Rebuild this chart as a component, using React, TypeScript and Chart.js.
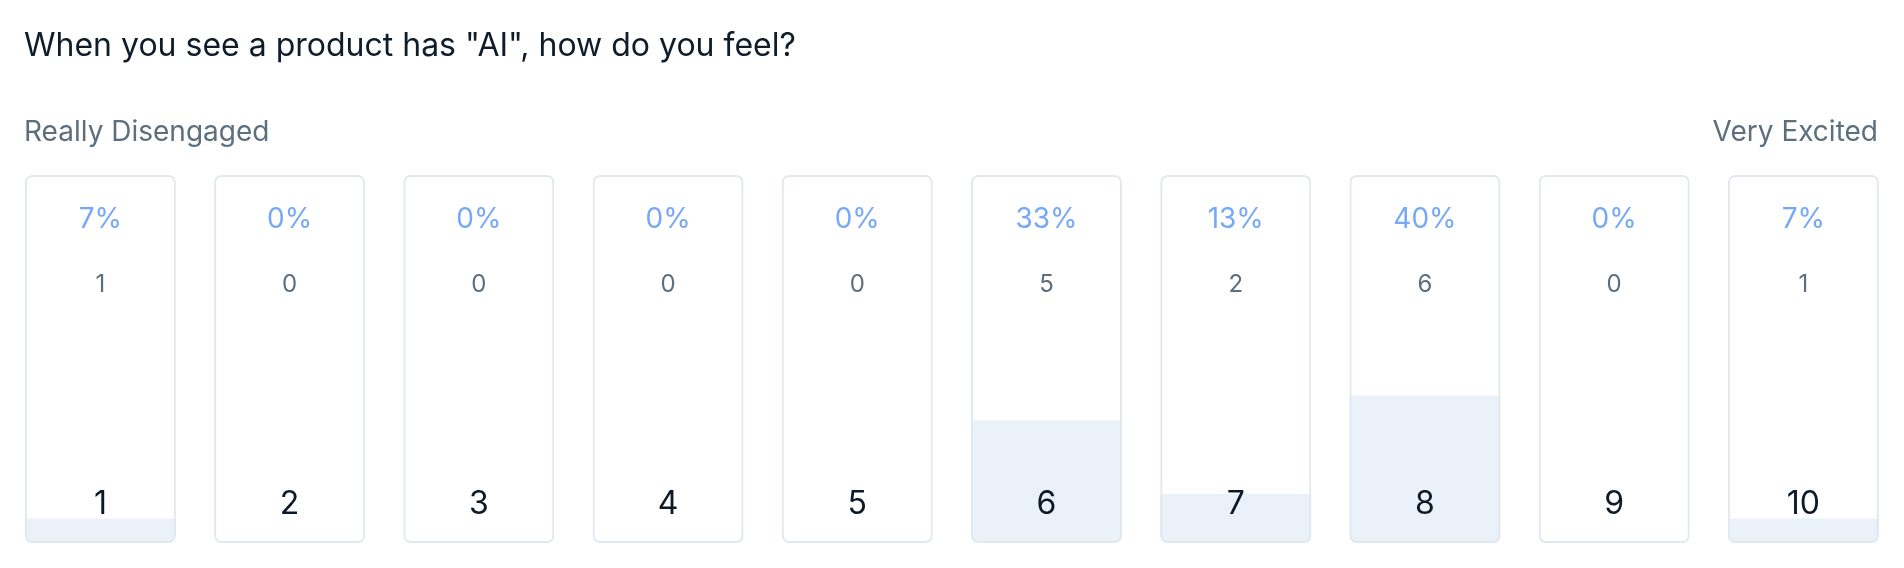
import React, { useEffect, useRef } from "react";
import { Chart, registerables } from "chart.js";

Chart.register(...registerables);

const TITLE = 'When you see a product has "AI", how do you feel?';
const LEFT_LABEL = "Really Disengaged";
const RIGHT_LABEL = "Very Excited";
const scores = ["1", "2", "3", "4", "5", "6", "7", "8", "9", "10"];
const counts = [1, 0, 0, 0, 0, 5, 2, 6, 0, 1];
const total = counts.reduce((a, b) => a + b, 0);
const percents = counts.map((c) => (c / total) * 100);
const cardValues = scores.map(() => 100);

const FONT = "Inter, 'Noto Sans', sans-serif";

const textPlugin = {
  id: "cardText",
  afterDatasetsDraw(chart: any) {
    const { ctx, chartArea, scales } = chart;
    const xs = scales.x;
    ctx.save();
    ctx.textAlign = "center";
    ctx.textBaseline = "middle";
    scores.forEach((s, i) => {
      const x = xs.getPixelForValue(i);
      ctx.fillStyle = "#76a8f7";
      ctx.font = `400 28px ${FONT}`;
      ctx.fillText(`${Math.round(percents[i])}%`, x, chartArea.top + 45);
      ctx.fillStyle = "#5d6f7c";
      ctx.font = `400 24px ${FONT}`;
      ctx.fillText(String(counts[i]), x, chartArea.top + 110);
      ctx.fillStyle = "#0c1a27";
      ctx.font = `400 32px ${FONT}`;
      ctx.fillText(s, x, chartArea.bottom - 39);
    });
    // header texts
    ctx.textBaseline = "alphabetic";
    ctx.textAlign = "left";
    ctx.fillStyle = "#0f1d2b";
    ctx.font = `400 32px ${FONT}`;
    ctx.fillText(TITLE, 24, 56);
    ctx.fillStyle = "#5b6f7d";
    ctx.font = `400 28px ${FONT}`;
    ctx.fillText(LEFT_LABEL, 24, 141);
    ctx.textAlign = "right";
    ctx.fillText(RIGHT_LABEL, 1878, 141);
    ctx.restore();
  },
};

export default function App() {
  const ref = useRef<HTMLCanvasElement>(null);
  useEffect(() => {
    if (!ref.current) return;
    const chart = new Chart(ref.current, {
      type: "bar",
      data: {
        labels: scores,
        datasets: [
          {
            label: "card",
            data: cardValues,
            backgroundColor: "rgba(0,0,0,0)",
            borderColor: "#e2e8f0",
            borderWidth: 2,
            borderRadius: 7,
            borderSkipped: false,
            grouped: false,
            order: 1,
            barPercentage: 0.798,
            categoryPercentage: 1,
          } as any,
          {
            label: "share",
            data: percents,
            backgroundColor: "#eaf1f9",
            borderWidth: 0,
            borderRadius: { topLeft: 0, topRight: 0, bottomLeft: 7, bottomRight: 7 },
            borderSkipped: false,
            inflateAmount: 0,
            grouped: false,
            order: 2,
            barPercentage: 0.798,
            categoryPercentage: 1,
          } as any,
        ],
      },
      options: {
        responsive: false,
        animation: false,
        devicePixelRatio: 1,
        layout: { padding: { left: 5.8, right: 6, top: 175, bottom: 25 } },
        scales: {
          x: { display: false, offset: true },
          y: { display: false, min: 0, max: 100 },
        },
        plugins: {
          legend: { display: false },
          tooltip: { enabled: false },
          title: { display: false },
        },
      },
      plugins: [textPlugin],
    });
    return () => chart.destroy();
  }, []);
  return (
    <div style={{ position: "absolute", left: 0, top: 0, width: 1904, height: 568, background: "#fff" }}>
      <canvas ref={ref} width={1904} height={568} style={{ width: 1904, height: 568, display: "block" }} />
    </div>
  );
}
